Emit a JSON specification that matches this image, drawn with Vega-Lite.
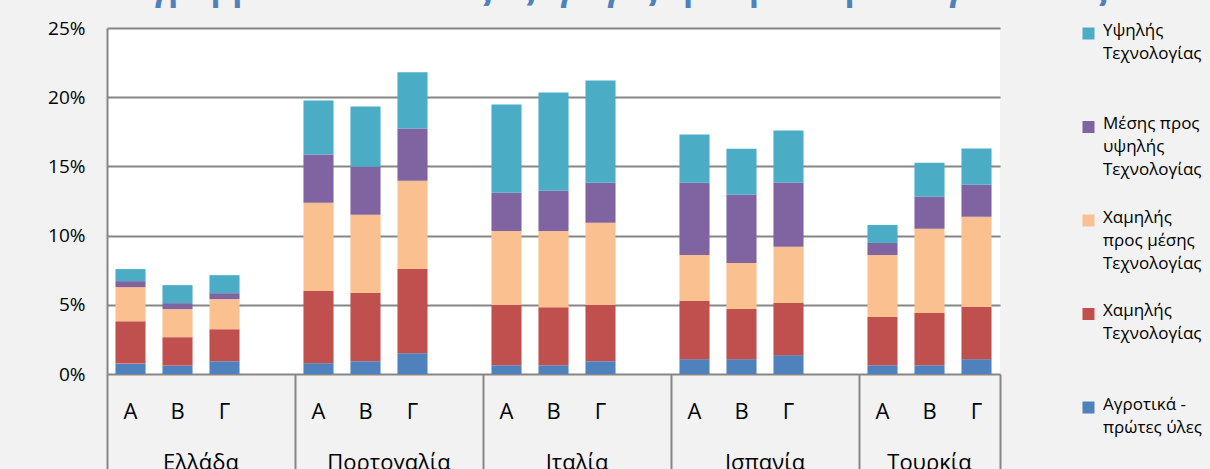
{
  "$schema": "https://vega.github.io/schema/vega-lite/v6.json",
  "autosize": "none",
  "padding": {"left": 107, "top": 28, "right": 210, "bottom": 95},
  "width": 893,
  "height": 346,
  "background": "#F2F2F2",
  "title": {"text": "Διάγραμμα 3: Συνολικές εξαγωγές εμπορεύσιμων αγαθών ως % στο ΑΕΠ", "font": "Open Sans", "fontSize": 33, "fontWeight": "bold", "color": "#4F81BD", "anchor": "middle", "offset": 12, "dx": 137},
  "config": {"font": "Open Sans", "view": {"stroke": null, "fill": "white"}},
  "data": {"values": [
    {"c":"Ελλάδα","p":"Α","k":"Ελλάδα|Α","cat":"Αγροτικά - πρώτες ύλες","lv":0,"v":0.75},
    {"c":"Ελλάδα","p":"Α","k":"Ελλάδα|Α","cat":"Χαμηλής Τεχνολογίας","lv":1,"v":3.07},
    {"c":"Ελλάδα","p":"Α","k":"Ελλάδα|Α","cat":"Χαμηλής προς μέσης Τεχνολογίας","lv":2,"v":2.46},
    {"c":"Ελλάδα","p":"Α","k":"Ελλάδα|Α","cat":"Μέσης προς υψηλής Τεχνολογίας","lv":3,"v":0.43},
    {"c":"Ελλάδα","p":"Α","k":"Ελλάδα|Α","cat":"Υψηλής Τεχνολογίας","lv":4,"v":0.87},
    {"c":"Ελλάδα","p":"Β","k":"Ελλάδα|Β","cat":"Αγροτικά - πρώτες ύλες","lv":0,"v":0.61},
    {"c":"Ελλάδα","p":"Β","k":"Ελλάδα|Β","cat":"Χαμηλής Τεχνολογίας","lv":1,"v":2.05},
    {"c":"Ελλάδα","p":"Β","k":"Ελλάδα|Β","cat":"Χαμηλής προς μέσης Τεχνολογίας","lv":2,"v":2.03},
    {"c":"Ελλάδα","p":"Β","k":"Ελλάδα|Β","cat":"Μέσης προς υψηλής Τεχνολογίας","lv":3,"v":0.43},
    {"c":"Ελλάδα","p":"Β","k":"Ελλάδα|Β","cat":"Υψηλής Τεχνολογίας","lv":4,"v":1.30},
    {"c":"Ελλάδα","p":"Γ","k":"Ελλάδα|Γ","cat":"Αγροτικά - πρώτες ύλες","lv":0,"v":0.92},
    {"c":"Ελλάδα","p":"Γ","k":"Ελλάδα|Γ","cat":"Χαμηλής Τεχνολογίας","lv":1,"v":2.32},
    {"c":"Ελλάδα","p":"Γ","k":"Ελλάδα|Γ","cat":"Χαμηλής προς μέσης Τεχνολογίας","lv":2,"v":2.17},
    {"c":"Ελλάδα","p":"Γ","k":"Ελλάδα|Γ","cat":"Μέσης προς υψηλής Τεχνολογίας","lv":3,"v":0.43},
    {"c":"Ελλάδα","p":"Γ","k":"Ελλάδα|Γ","cat":"Υψηλής Τεχνολογίας","lv":4,"v":1.30},
    {"c":"Πορτογαλία","p":"Α","k":"Πορτογαλία|Α","cat":"Αγροτικά - πρώτες ύλες","lv":0,"v":0.78},
    {"c":"Πορτογαλία","p":"Α","k":"Πορτογαλία|Α","cat":"Χαμηλής Τεχνολογίας","lv":1,"v":5.22},
    {"c":"Πορτογαλία","p":"Α","k":"Πορτογαλία|Α","cat":"Χαμηλής προς μέσης Τεχνολογίας","lv":2,"v":6.38},
    {"c":"Πορτογαλία","p":"Α","k":"Πορτογαλία|Α","cat":"Μέσης προς υψηλής Τεχνολογίας","lv":3,"v":3.48},
    {"c":"Πορτογαλία","p":"Α","k":"Πορτογαλία|Α","cat":"Υψηλής Τεχνολογίας","lv":4,"v":3.91},
    {"c":"Πορτογαλία","p":"Β","k":"Πορτογαλία|Β","cat":"Αγροτικά - πρώτες ύλες","lv":0,"v":0.92},
    {"c":"Πορτογαλία","p":"Β","k":"Πορτογαλία|Β","cat":"Χαμηλής Τεχνολογίας","lv":1,"v":4.93},
    {"c":"Πορτογαλία","p":"Β","k":"Πορτογαλία|Β","cat":"Χαμηλής προς μέσης Τεχνολογίας","lv":2,"v":5.65},
    {"c":"Πορτογαλία","p":"Β","k":"Πορτογαλία|Β","cat":"Μέσης προς υψηλής Τεχνολογίας","lv":3,"v":3.48},
    {"c":"Πορτογαλία","p":"Β","k":"Πορτογαλία|Β","cat":"Υψηλής Τεχνολογίας","lv":4,"v":4.35},
    {"c":"Πορτογαλία","p":"Γ","k":"Πορτογαλία|Γ","cat":"Αγροτικά - πρώτες ύλες","lv":0,"v":1.50},
    {"c":"Πορτογαλία","p":"Γ","k":"Πορτογαλία|Γ","cat":"Χαμηλής Τεχνολογίας","lv":1,"v":6.09},
    {"c":"Πορτογαλία","p":"Γ","k":"Πορτογαλία|Γ","cat":"Χαμηλής προς μέσης Τεχνολογίας","lv":2,"v":6.38},
    {"c":"Πορτογαλία","p":"Γ","k":"Πορτογαλία|Γ","cat":"Μέσης προς υψηλής Τεχνολογίας","lv":3,"v":3.77},
    {"c":"Πορτογαλία","p":"Γ","k":"Πορτογαλία|Γ","cat":"Υψηλής Τεχνολογίας","lv":4,"v":4.06},
    {"c":"Ιταλία","p":"Α","k":"Ιταλία|Α","cat":"Αγροτικά - πρώτες ύλες","lv":0,"v":0.63},
    {"c":"Ιταλία","p":"Α","k":"Ιταλία|Α","cat":"Χαμηλής Τεχνολογίας","lv":1,"v":4.35},
    {"c":"Ιταλία","p":"Α","k":"Ιταλία|Α","cat":"Χαμηλής προς μέσης Τεχνολογίας","lv":2,"v":5.36},
    {"c":"Ιταλία","p":"Α","k":"Ιταλία|Α","cat":"Μέσης προς υψηλής Τεχνολογίας","lv":3,"v":2.75},
    {"c":"Ιταλία","p":"Α","k":"Ιταλία|Α","cat":"Υψηλής Τεχνολογίας","lv":4,"v":6.38},
    {"c":"Ιταλία","p":"Β","k":"Ιταλία|Β","cat":"Αγροτικά - πρώτες ύλες","lv":0,"v":0.63},
    {"c":"Ιταλία","p":"Β","k":"Ιταλία|Β","cat":"Χαμηλής Τεχνολογίας","lv":1,"v":4.20},
    {"c":"Ιταλία","p":"Β","k":"Ιταλία|Β","cat":"Χαμηλής προς μέσης Τεχνολογίας","lv":2,"v":5.51},
    {"c":"Ιταλία","p":"Β","k":"Ιταλία|Β","cat":"Μέσης προς υψηλής Τεχνολογίας","lv":3,"v":2.90},
    {"c":"Ιταλία","p":"Β","k":"Ιταλία|Β","cat":"Υψηλής Τεχνολογίας","lv":4,"v":7.10},
    {"c":"Ιταλία","p":"Γ","k":"Ιταλία|Γ","cat":"Αγροτικά - πρώτες ύλες","lv":0,"v":0.92},
    {"c":"Ιταλία","p":"Γ","k":"Ιταλία|Γ","cat":"Χαμηλής Τεχνολογίας","lv":1,"v":4.06},
    {"c":"Ιταλία","p":"Γ","k":"Ιταλία|Γ","cat":"Χαμηλής προς μέσης Τεχνολογίας","lv":2,"v":5.94},
    {"c":"Ιταλία","p":"Γ","k":"Ιταλία|Γ","cat":"Μέσης προς υψηλής Τεχνολογίας","lv":3,"v":2.90},
    {"c":"Ιταλία","p":"Γ","k":"Ιταλία|Γ","cat":"Υψηλής Τεχνολογίας","lv":4,"v":7.39},
    {"c":"Ισπανία","p":"Α","k":"Ισπανία|Α","cat":"Αγροτικά - πρώτες ύλες","lv":0,"v":1.07},
    {"c":"Ισπανία","p":"Α","k":"Ισπανία|Α","cat":"Χαμηλής Τεχνολογίας","lv":1,"v":4.20},
    {"c":"Ισπανία","p":"Α","k":"Ισπανία|Α","cat":"Χαμηλής προς μέσης Τεχνολογίας","lv":2,"v":3.33},
    {"c":"Ισπανία","p":"Α","k":"Ισπανία|Α","cat":"Μέσης προς υψηλής Τεχνολογίας","lv":3,"v":5.22},
    {"c":"Ισπανία","p":"Α","k":"Ισπανία|Α","cat":"Υψηλής Τεχνολογίας","lv":4,"v":3.48},
    {"c":"Ισπανία","p":"Β","k":"Ισπανία|Β","cat":"Αγροτικά - πρώτες ύλες","lv":0,"v":1.07},
    {"c":"Ισπανία","p":"Β","k":"Ισπανία|Β","cat":"Χαμηλής Τεχνολογίας","lv":1,"v":3.62},
    {"c":"Ισπανία","p":"Β","k":"Ισπανία|Β","cat":"Χαμηλής προς μέσης Τεχνολογίας","lv":2,"v":3.33},
    {"c":"Ισπανία","p":"Β","k":"Ισπανία|Β","cat":"Μέσης προς υψηλής Τεχνολογίας","lv":3,"v":4.93},
    {"c":"Ισπανία","p":"Β","k":"Ισπανία|Β","cat":"Υψηλής Τεχνολογίας","lv":4,"v":3.33},
    {"c":"Ισπανία","p":"Γ","k":"Ισπανία|Γ","cat":"Αγροτικά - πρώτες ύλες","lv":0,"v":1.36},
    {"c":"Ισπανία","p":"Γ","k":"Ισπανία|Γ","cat":"Χαμηλής Τεχνολογίας","lv":1,"v":3.77},
    {"c":"Ισπανία","p":"Γ","k":"Ισπανία|Γ","cat":"Χαμηλής προς μέσης Τεχνολογίας","lv":2,"v":4.06},
    {"c":"Ισπανία","p":"Γ","k":"Ισπανία|Γ","cat":"Μέσης προς υψηλής Τεχνολογίας","lv":3,"v":4.64},
    {"c":"Ισπανία","p":"Γ","k":"Ισπανία|Γ","cat":"Υψηλής Τεχνολογίας","lv":4,"v":3.77},
    {"c":"Τουρκία","p":"Α","k":"Τουρκία|Α","cat":"Αγροτικά - πρώτες ύλες","lv":0,"v":0.63},
    {"c":"Τουρκία","p":"Α","k":"Τουρκία|Α","cat":"Χαμηλής Τεχνολογίας","lv":1,"v":3.48},
    {"c":"Τουρκία","p":"Α","k":"Τουρκία|Α","cat":"Χαμηλής προς μέσης Τεχνολογίας","lv":2,"v":4.49},
    {"c":"Τουρκία","p":"Α","k":"Τουρκία|Α","cat":"Μέσης προς υψηλής Τεχνολογίας","lv":3,"v":0.87},
    {"c":"Τουρκία","p":"Α","k":"Τουρκία|Α","cat":"Υψηλής Τεχνολογίας","lv":4,"v":1.30},
    {"c":"Τουρκία","p":"Β","k":"Τουρκία|Β","cat":"Αγροτικά - πρώτες ύλες","lv":0,"v":0.63},
    {"c":"Τουρκία","p":"Β","k":"Τουρκία|Β","cat":"Χαμηλής Τεχνολογίας","lv":1,"v":3.77},
    {"c":"Τουρκία","p":"Β","k":"Τουρκία|Β","cat":"Χαμηλής προς μέσης Τεχνολογίας","lv":2,"v":6.09},
    {"c":"Τουρκία","p":"Β","k":"Τουρκία|Β","cat":"Μέσης προς υψηλής Τεχνολογίας","lv":3,"v":2.32},
    {"c":"Τουρκία","p":"Β","k":"Τουρκία|Β","cat":"Υψηλής Τεχνολογίας","lv":4,"v":2.46},
    {"c":"Τουρκία","p":"Γ","k":"Τουρκία|Γ","cat":"Αγροτικά - πρώτες ύλες","lv":0,"v":1.07},
    {"c":"Τουρκία","p":"Γ","k":"Τουρκία|Γ","cat":"Χαμηλής Τεχνολογίας","lv":1,"v":3.77},
    {"c":"Τουρκία","p":"Γ","k":"Τουρκία|Γ","cat":"Χαμηλής προς μέσης Τεχνολογίας","lv":2,"v":6.52},
    {"c":"Τουρκία","p":"Γ","k":"Τουρκία|Γ","cat":"Μέσης προς υψηλής Τεχνολογίας","lv":3,"v":2.32},
    {"c":"Τουρκία","p":"Γ","k":"Τουρκία|Γ","cat":"Υψηλής Τεχνολογίας","lv":4,"v":2.61}
  ]},
  "resolve": {"axis": {"x": "independent"}},
  "layer": [
    {
      "mark": {"type": "bar", "width": {"band": 0.64}},
      "encoding": {
        "x": {"field": "k", "type": "nominal",
          "scale": {"type": "band", "paddingInner": 0, "paddingOuter": 0, "domain": ["Ελλάδα|Α","Ελλάδα|Β","Ελλάδα|Γ","Ελλάδα|","Πορτογαλία|Α","Πορτογαλία|Β","Πορτογαλία|Γ","Πορτογαλία|","Ιταλία|Α","Ιταλία|Β","Ιταλία|Γ","Ιταλία|","Ισπανία|Α","Ισπανία|Β","Ισπανία|Γ","Ισπανία|","Τουρκία|Α","Τουρκία|Β","Τουρκία|Γ"]},
          "axis": {"orient": "bottom", "title": null, "labelExpr": "split(datum.label, '|')[1]", "ticks": false, "tickSize": 0, "domain": false, "grid": false, "labelAngle": 0, "labelFontSize": 22, "labelColor": "#000000", "labelBaseline": "top", "labelPadding": 27}},
        "y": {"field": "v", "type": "quantitative", "stack": "zero",
          "scale": {"domain": [0, 25], "nice": false},
          "axis": {"title": null, "values": [0, 5, 10, 15, 20, 25], "labelExpr": "datum.value + '%'", "ticks": false, "tickSize": 0, "labelPadding": 22, "labelFontSize": 19, "labelColor": "#000000", "grid": true, "gridColor": "#868686", "gridWidth": 2, "domain": true, "domainColor": "#868686", "domainWidth": 2}},
        "color": {"field": "cat", "type": "nominal",
          "scale": {"domain": ["Υψηλής Τεχνολογίας","Μέσης προς υψηλής Τεχνολογίας","Χαμηλής προς μέσης Τεχνολογίας","Χαμηλής Τεχνολογίας","Αγροτικά - πρώτες ύλες"], "range": ["#4BACC6","#8064A2","#FAC090","#C0504D","#4F81BD"]},
          "legend": {"title": null, "orient": "none", "legendX": 973, "legendY": -3, "padding": 0, "symbolType": "square", "symbolSize": 144, "symbolStrokeWidth": 0, "labelFontSize": 17, "labelColor": "#000000", "labelLimit": 0, "labelOffset": 6, "labelBaseline": "top", "gridAlign": "all", "rowPadding": 29.5,
            "labelExpr": "datum.label == 'Υψηλής Τεχνολογίας' ? ['Υψηλής','Τεχνολογίας'] : datum.label == 'Μέσης προς υψηλής Τεχνολογίας' ? ['Μέσης προς','υψηλής','Τεχνολογίας'] : datum.label == 'Χαμηλής προς μέσης Τεχνολογίας' ? ['Χαμηλής','προς μέσης','Τεχνολογίας'] : datum.label == 'Χαμηλής Τεχνολογίας' ? ['Χαμηλής','Τεχνολογίας'] : ['Αγροτικά -','πρώτες ύλες']",
            "encode": {"labels": {"update": {"lineHeight": {"value": 23}, "dy": {"value": -11}}}}}},
        "order": {"field": "lv", "type": "quantitative", "sort": "ascending"}
      }
    },
    {
      "mark": {"type": "bar", "opacity": 0},
      "encoding": {
        "x": {"field": "k", "type": "nominal",
          "axis": {"orient": "bottom", "title": null, "values": ["Ελλάδα|Α","Πορτογαλία|Α","Ιταλία|Α","Ισπανία|Α","Τουρκία|Α"], "bandPosition": 0, "labels": false, "domain": false, "grid": false, "ticks": true, "tickSize": 100, "tickWidth": 2, "tickColor": "#868686"}}
      }
    },
    {
      "mark": {"type": "bar", "opacity": 0},
      "encoding": {
        "x": {"field": "k", "type": "nominal",
          "axis": {"orient": "bottom", "title": null, "values": ["Τουρκία|Γ"], "bandPosition": 1, "labels": false, "domain": false, "grid": false, "ticks": true, "tickSize": 100, "tickWidth": 2, "tickColor": "#868686"}}
      }
    },
    {
      "mark": {"type": "bar", "opacity": 0},
      "encoding": {
        "x": {"field": "k", "type": "nominal",
          "axis": {"orient": "bottom", "title": null, "values": ["Ελλάδα|Γ","Πορτογαλία|Γ","Ιταλία|Γ","Ισπανία|Γ","Τουρκία|Γ"], "labelExpr": "split(datum.label, '|')[0]", "labelOffset": {"condition": {"test": "datum.value == 'Τουρκία|Γ'", "value": -47}, "value": -23.5}, "ticks": false, "tickSize": 0, "domain": false, "grid": false, "labelAngle": 0, "labelAlign": "center", "labelFontSize": 22, "labelColor": "#000000", "labelBaseline": "top", "labelPadding": 78}}
      }
    }
  ]
}
